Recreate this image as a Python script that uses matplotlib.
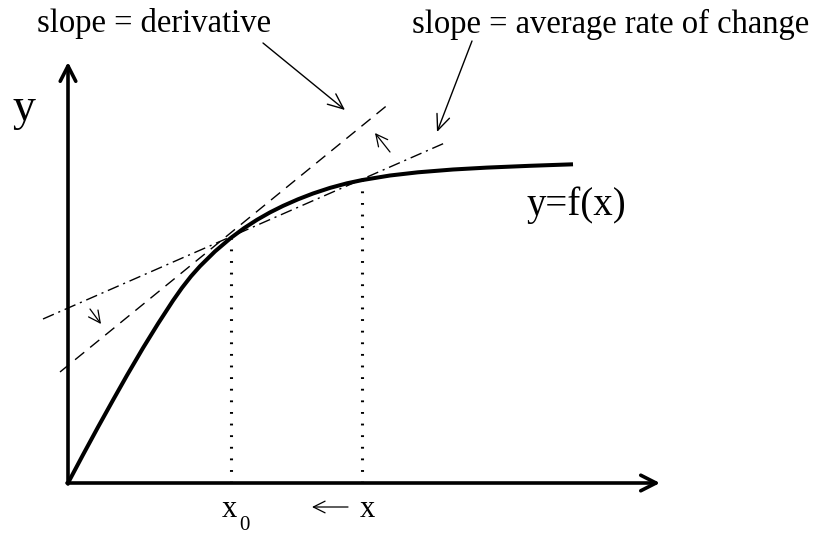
import numpy as np
import matplotlib
matplotlib.use("Agg")
from matplotlib import pyplot as plt

# curve y=f(x) (units: pixels from the axis origin)
curve_x = [0, 15, 30, 45, 59, 75, 90, 105, 114, 123, 132, 147, 163, 176, 189,
           202, 215, 230, 245, 262, 279, 294, 322, 350, 385, 419, 462, 505]
curve_y = [0, 28.2, 55.9, 82.9, 107.7, 135.0, 159.3, 182.4, 195.2, 206.7,
           216.8, 231.6, 245.2, 254.8, 263.2, 270.6, 277.1, 283.7, 289.5,
           295.1, 299.7, 302.9, 307.5, 310.7, 313.5, 315.4, 317.2, 318.7]

# the two points x0 and x on the curve
x0, fx0 = 163, 245.2
x1, fx1 = 294, 302.9

# tangent (slope = derivative) and secant (slope = average rate of change)
tangent_x = [-8, 322]
tangent_y = [111, 380]
secant_x = [-25, 379]
secant_y = [164, 341]

plt.rcParams['font.family'] = ['Liberation Serif', 'DejaVu Serif']

fig = plt.figure(figsize=(8.17, 5.35), dpi=100)
ax = fig.add_axes([0, 0, 1, 1])
ax.set_xlim(-68, 749)
ax.set_ylim(-52, 483)
ax.axis('off')

# axes with arrow heads
axis_arrow = dict(arrowstyle='->,head_length=0.55,head_width=0.28', lw=2.6,
                  color='black', shrinkA=0, shrinkB=0, mutation_scale=20)
ax.annotate('', xy=(0, 421), xytext=(0, -1), arrowprops=axis_arrow)
ax.annotate('', xy=(592, 0), xytext=(-1, 0), arrowprops=axis_arrow)

# dotted verticals
ax.plot([x0, x0], [0, fx0], color='black', lw=2.2, linestyle=(0, (0.6, 3.2)))
ax.plot([x1, x1], [0, fx1], color='black', lw=2.2, linestyle=(0, (0.6, 3.2)))

# tangent and secant
ax.plot(tangent_x, tangent_y, color='black', lw=1.0, linestyle=(0, (8.5, 5.5)))
ax.plot(secant_x, secant_y, color='black', lw=1.0, linestyle=(0, (8.5, 3.5, 1.5, 3.5)))

# the curve
ax.plot(curve_x, curve_y, color='black', lw=2.9, solid_capstyle='butt',
        solid_joinstyle='round')

# pointer arrows
thin = dict(arrowstyle='->,head_length=0.7,head_width=0.3', lw=1.0,
            color='black', shrinkA=0, shrinkB=0, mutation_scale=16)
small = dict(arrowstyle='->,head_length=0.7,head_width=0.35', lw=0.9,
             color='black', shrinkA=0, shrinkB=0, mutation_scale=12)
ax.annotate('', xy=(277, 373), xytext=(195, 440), arrowprops=thin)
ax.annotate('', xy=(369, 351), xytext=(404, 442), arrowprops=thin)
ax.annotate('', xy=(307, 350), xytext=(322, 331), arrowprops=small)
ax.annotate('', xy=(33, 159), xytext=(22, 174), arrowprops=small)
ax.annotate('', xy=(244, -24), xytext=(280, -24), arrowprops=small)

# labels
ax.text(-31, 451, 'slope = derivative', fontsize=23.5, va='baseline', ha='left')
ax.text(344, 450, 'slope = average rate of change', fontsize=23.5,
        va='baseline', ha='left')
ax.text(-44, 363, 'y', fontsize=33, va='baseline', ha='center')
ax.text(459, 268, 'y=f(x)', fontsize=28, va='baseline', ha='left')
ax.text(154, -34, 'x', fontsize=22, va='baseline', ha='left')
ax.text(171, -47, '0', fontsize=15, va='baseline', ha='left')
ax.text(292, -34, 'x', fontsize=22, va='baseline', ha='left')

fig.savefig('out.png', dpi=100)
